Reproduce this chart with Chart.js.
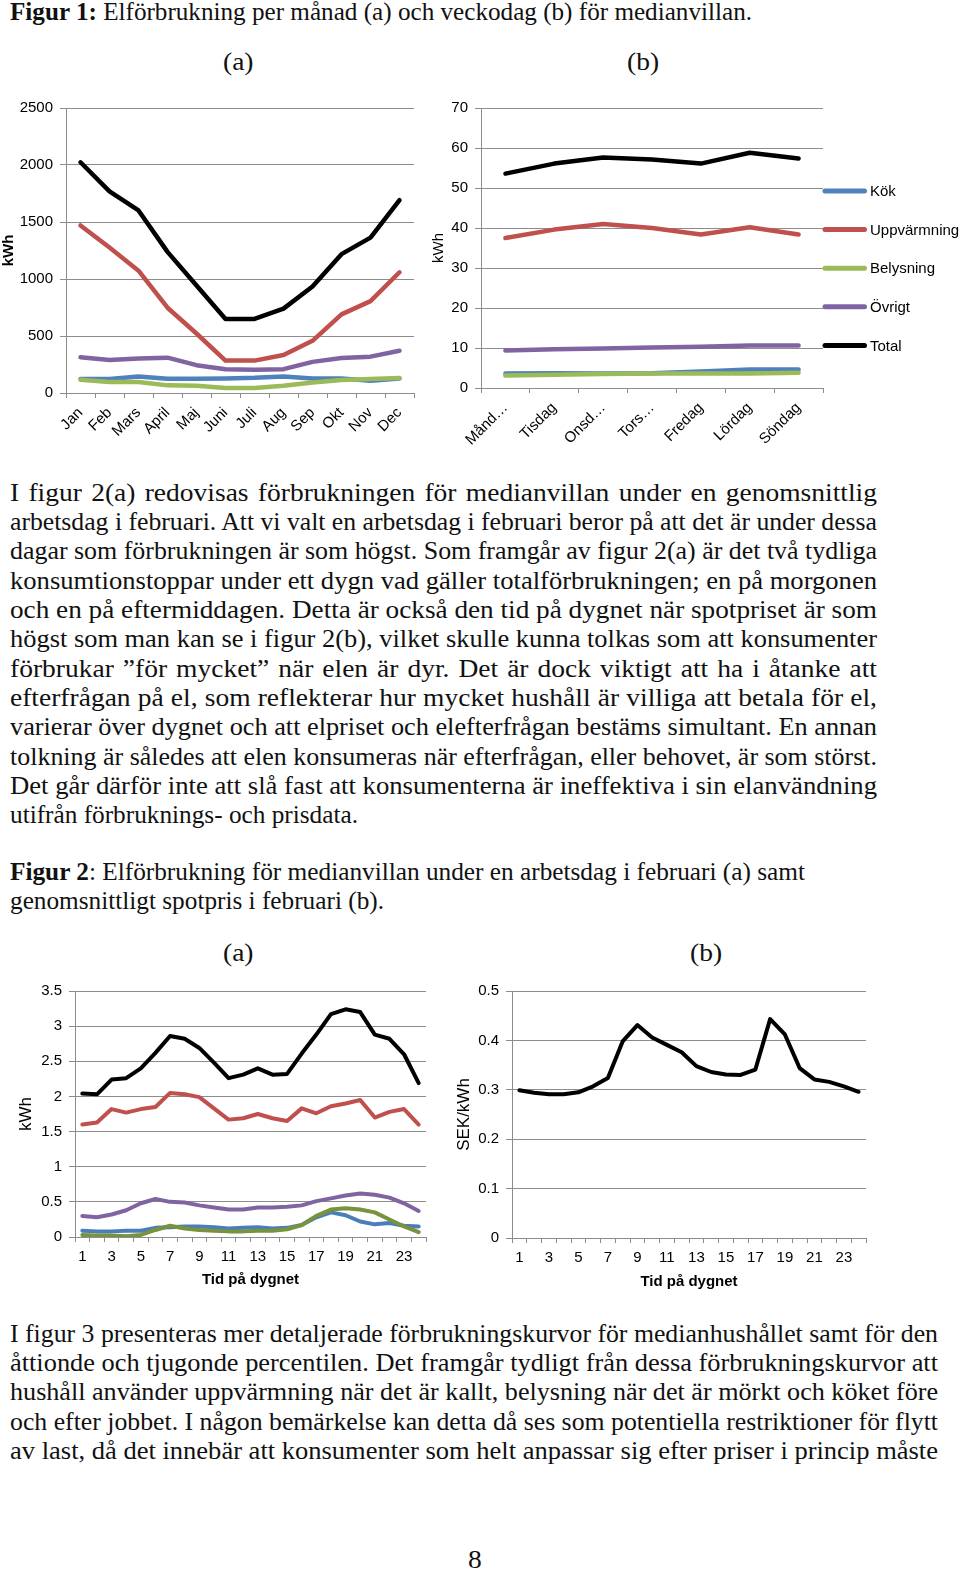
<!DOCTYPE html>
<html lang="sv"><head><meta charset="utf-8"><title>Elförbrukning</title>
<script src="https://cdn.jsdelivr.net/npm/chart.js@4.4.1/dist/chart.umd.min.js"></script>
<style>
html,body{margin:0;padding:0;background:#fff;}
body{position:relative;width:960px;height:1572px;overflow:hidden;font-family:"Liberation Serif","Times New Roman",serif;color:#111;}
.ln{position:absolute;white-space:nowrap;transform-origin:0 0;line-height:1;}
.cv{position:absolute;}
</style></head><body>
<canvas id="c1a" class="cv" width="420" height="355" style="left:0px;top:92px"></canvas>
<canvas id="c1b" class="cv" width="535" height="365" style="left:425px;top:92px"></canvas>
<canvas id="c2a" class="cv" width="440" height="320" style="left:0px;top:975px"></canvas>
<canvas id="c2b" class="cv" width="440" height="320" style="left:440px;top:975px"></canvas>
<script>
// ---------- DATA ----------
const seriesNames = ['Kök', 'Uppvärmning', 'Belysning', 'Övrigt', 'Total'];

const months = ['Jan', 'Feb', 'Mars', 'April', 'Maj', 'Juni', 'Juli', 'Aug', 'Sep', 'Okt', 'Nov', 'Dec'];
const monthKok     = [122, 122, 145, 125, 125, 128, 133, 145, 128, 128, 107, 128];
const monthUppv    = [1470, 1276, 1073, 748, 522, 284, 284, 333, 458, 690, 806, 1059];
const monthBelys   = [116, 96, 96, 67, 64, 44, 44, 64, 93, 113, 122, 131];
const monthOvrigt  = [313, 290, 302, 310, 244, 209, 203, 209, 273, 307, 319, 371];
const monthTotal   = [2024, 1769, 1601, 1238, 943, 650, 650, 740, 934, 1218, 1363, 1691];

const weekdays = ['Månd…', 'Tisdag', 'Onsd…', 'Tors…', 'Fredag', 'Lördag', 'Söndag'];
const dayKok    = [3.6, 3.7, 3.6, 3.7, 4.1, 4.6, 4.6];
const dayUppv   = [37.5, 39.6, 41.0, 40.0, 38.4, 40.2, 38.4];
const dayBelys  = [3.1, 3.3, 3.5, 3.6, 3.6, 3.6, 3.8];
const dayOvrigt = [9.4, 9.7, 9.9, 10.1, 10.3, 10.6, 10.6];
const dayTotal  = [53.6, 56.1, 57.6, 57.1, 56.1, 58.8, 57.4];

const hours = ['1', '2', '3', '4', '5', '6', '7', '8', '9', '10', '11', '12', '13', '14', '15', '16', '17', '18', '19', '20', '21', '22', '23', '24'];
const hourKok    = [0.09, 0.08, 0.08, 0.09, 0.09, 0.13, 0.14, 0.15, 0.15, 0.14, 0.12, 0.13, 0.14, 0.12, 0.13, 0.17, 0.28, 0.35, 0.31, 0.22, 0.18, 0.20, 0.16, 0.15];
const hourUppv   = [1.60, 1.63, 1.82, 1.77, 1.82, 1.85, 2.05, 2.03, 1.99, 1.83, 1.67, 1.69, 1.75, 1.69, 1.65, 1.83, 1.76, 1.86, 1.90, 1.95, 1.70, 1.78, 1.82, 1.60];
const hourBelys  = [0.03, 0.02, 0.02, 0.01, 0.03, 0.10, 0.16, 0.12, 0.10, 0.09, 0.08, 0.08, 0.09, 0.09, 0.11, 0.17, 0.30, 0.39, 0.41, 0.39, 0.35, 0.25, 0.15, 0.07];
const hourOvrigt = [0.30, 0.28, 0.32, 0.38, 0.48, 0.54, 0.50, 0.49, 0.45, 0.42, 0.39, 0.39, 0.42, 0.42, 0.43, 0.45, 0.51, 0.55, 0.59, 0.62, 0.60, 0.56, 0.48, 0.37];
const hourTotal  = [2.04, 2.03, 2.24, 2.26, 2.40, 2.62, 2.86, 2.82, 2.69, 2.48, 2.26, 2.31, 2.40, 2.31, 2.32, 2.61, 2.88, 3.17, 3.24, 3.20, 2.88, 2.82, 2.60, 2.19];
const hourPrice  = [0.299, 0.294, 0.291, 0.291, 0.295, 0.307, 0.324, 0.398, 0.431, 0.406, 0.391, 0.376, 0.348, 0.336, 0.331, 0.330, 0.341, 0.443, 0.412, 0.344, 0.321, 0.316, 0.307, 0.296];

// ---------- TEXT ----------
const para1 = [
  'I figur 2(a) redovisas förbrukningen för medianvillan under en genomsnittlig',
  'arbetsdag i februari. Att vi valt en arbetsdag i februari beror på att det är under dessa',
  'dagar som förbrukningen är som högst. Som framgår av figur 2(a) är det två tydliga',
  'konsumtionstoppar under ett dygn vad gäller totalförbrukningen; en på morgonen',
  'och en på eftermiddagen. Detta är också den tid på dygnet när spotpriset är som',
  'högst som man kan se i figur 2(b), vilket skulle kunna tolkas som att konsumenter',
  'förbrukar ”för mycket” när elen är dyr. Det är dock viktigt att ha i åtanke att',
  'efterfrågan på el, som reflekterar hur mycket hushåll är villiga att betala för el,',
  'varierar över dygnet och att elpriset och elefterfrågan bestäms simultant. En annan',
  'tolkning är således att elen konsumeras när efterfrågan, eller behovet, är som störst.',
  'Det går därför inte att slå fast att konsumenterna är ineffektiva i sin elanvändning',
  'utifrån förbruknings- och prisdata.'
];
const para2 = [
  'I figur 3 presenteras mer detaljerade förbrukningskurvor för medianhushållet samt för den',
  'åttionde och tjugonde percentilen. Det framgår tydligt från dessa förbrukningskurvor att',
  'hushåll använder uppvärmning när det är kallt, belysning när det är mörkt och köket före',
  'och efter jobbet. I någon bemärkelse kan detta då ses som potentiella restriktioner för flytt',
  'av last, då det innebär att konsumenter som helt anpassar sig efter priser i princip måste'
];

const FS = 25;
const BASE_SCALE = 1.1;
function placeLine(html, x, baseline, o) {
  o = o || {};
  const fs = o.fs || FS;
  const d = document.createElement('div');
  d.className = 'ln';
  d.style.fontSize = fs + 'px';
  d.innerHTML = html;
  document.body.appendChild(d);
  const w = d.getBoundingClientRect().width;
  let s = o.scale || 1;
  if (o.width) {
    if (o.justify) {
      s = BASE_SCALE;
      const n = (d.textContent.match(/ /g) || []).length;
      if (w * s > o.width || n === 0) s = o.width / w;
      else d.style.wordSpacing = ((o.width / s - w) / n) + 'px';
    } else {
      s = o.width / w;
    }
  }
  let left = x;
  if (o.center) left = x - w * s / 2;
  d.style.left = left + 'px';
  d.style.top = (baseline - 0.8375 * fs) + 'px';
  d.style.transform = 'scaleX(' + s + ')';
}

placeLine('<b>Figur 1:</b> Elförbrukning per månad (a) och veckodag (b) för medianvillan.', 10, 20, {width: 742});
placeLine('(a)', 238.6, 70, {center: true, scale: BASE_SCALE});
placeLine('(b)', 643, 70, {center: true, scale: BASE_SCALE});
para1.forEach((t, i) => {
  const last = i === para1.length - 1;
  placeLine(t, 10, 500.5 + i * 29.35, last ? {width: 348} : {width: 867, justify: true});
});
placeLine('<b>Figur 2</b>: Elförbrukning för medianvillan under en arbetsdag i februari (a) samt', 10, 879.5, {width: 795});
placeLine('genomsnittligt spotpris i februari (b).', 10, 909, {width: 374});
placeLine('(a)', 238.6, 961, {center: true, scale: BASE_SCALE});
placeLine('(b)', 706, 961, {center: true, scale: BASE_SCALE});
para2.forEach((t, i) => {
  placeLine(t, 10, 1341.5 + i * 29.35, {width: 928, justify: true});
});
placeLine('8', 475, 1567.5, {center: true, scale: BASE_SCALE});

// ---------- CHARTS ----------
Chart.defaults.font.family = "'Liberation Sans', Arial, sans-serif";
Chart.defaults.font.size = 15;
Chart.defaults.color = '#000';
const GRID = '#8c8c8c';

const sideLegend = {
  id: 'sideLegend',
  afterDraw(chart, args, o) {
    const ctx = chart.ctx;
    ctx.save();
    chart.data.datasets.forEach((ds, i) => {
      const y = o.y0 + i * o.dy;
      ctx.strokeStyle = ds.borderColor;
      ctx.lineWidth = o.lineWidth;
      ctx.lineCap = 'round';
      ctx.beginPath(); ctx.moveTo(o.x0, y); ctx.lineTo(o.x1, y); ctx.stroke();
      ctx.fillStyle = '#000';
      ctx.font = o.font;
      ctx.textBaseline = 'middle';
      ctx.textAlign = 'left';
      ctx.fillText(ds.label, o.tx, y + 1);
    });
    ctx.restore();
  }
};

function ds(label, data, color, order, width) {
  return {label, data, borderColor: color, backgroundColor: color, borderWidth: width,
    pointRadius: 0, pointHoverRadius: 0, tension: 0, fill: false, order,
    borderCapStyle: 'round', borderJoinStyle: 'round'};
}

function scales(p) {
  return {
    x: {
      type: 'category', offset: true,
      grid: {offset: true, drawOnChartArea: false, drawTicks: true, tickLength: 5, color: GRID, lineWidth: 1},
      border: {display: true, color: GRID, width: 1},
      ticks: {autoSkip: false, maxRotation: p.rot, minRotation: p.rot, padding: p.xPad, color: '#000',
        font: {size: 15},
        callback: function (val, i) { return (p.every && i % p.every !== 0) ? '' : this.getLabelForValue(val); }},
      title: p.xTitle ? {display: true, text: p.xTitle, color: '#000', font: {size: 15, weight: 'bold'},
        padding: {top: 0, bottom: p.xTitlePad}} : {display: false},
      afterFit: s => { s.height = p.xHeight; }
    },
    y: {
      min: p.ymin, max: p.ymax,
      ticks: {stepSize: p.step, padding: 7, color: '#000', font: {size: 15}, callback: v => String(v)},
      grid: {color: GRID, lineWidth: 1, tickLength: 6, drawTicks: true},
      border: {display: true, color: GRID, width: 1},
      title: {display: true, text: p.yTitle, color: '#000',
        font: {size: p.yTitleSize, weight: p.yTitleBold ? 'bold' : 'normal'},
        padding: {top: p.yTitlePad, bottom: 0}},
      afterFit: s => { s.width = p.yWidth; }
    }
  };
}

function baseOptions(pad, sc) {
  return {
    responsive: false, animation: false, devicePixelRatio: 1,
    layout: {padding: pad},
    plugins: {legend: {display: false}, tooltip: {enabled: false}},
    elements: {point: {radius: 0}, line: {tension: 0}},
    scales: sc
  };
}

// Figure 1 (a)
new Chart(document.getElementById('c1a'), {
  type: 'line',
  data: {labels: months, datasets: [
    ds(seriesNames[0], monthKok, '#4F81BD', 4, 4.5),
    ds(seriesNames[1], monthUppv, '#C0504D', 3, 4.5),
    ds(seriesNames[2], monthBelys, '#9BBB59', 2, 4.5),
    ds(seriesNames[3], monthOvrigt, '#8064A2', 1, 4.5),
    ds(seriesNames[4], monthTotal, '#000000', 0, 4.5)
  ]},
  options: baseOptions({left: 0, right: 6, top: 14, bottom: 0},
    scales({ymin: 0, ymax: 2500, step: 500, yTitle: 'kWh', yTitleSize: 15, yTitleBold: true, yTitlePad: 0,
      yWidth: 66, xHeight: 54, rot: 45, xPad: 6}))
});

// Figure 1 (b)
const opt1b = baseOptions({left: 0, right: 137, top: 15, bottom: 0},
  scales({ymin: 0, ymax: 70, step: 10, yTitle: 'kWh', yTitleSize: 15, yTitleBold: false, yTitlePad: 5,
    yWidth: 56, xHeight: 69, rot: 45, xPad: 6}));
opt1b.plugins.sideLegend = {x0: 400, x1: 439.5, tx: 445, y0: 99, dy: 38.6, lineWidth: 5,
  font: "15px 'Liberation Sans', Arial, sans-serif"};
new Chart(document.getElementById('c1b'), {
  type: 'line',
  data: {labels: weekdays, datasets: [
    ds(seriesNames[0], dayKok, '#4F81BD', 4, 4.5),
    ds(seriesNames[1], dayUppv, '#C0504D', 3, 4.5),
    ds(seriesNames[2], dayBelys, '#9BBB59', 2, 4.5),
    ds(seriesNames[3], dayOvrigt, '#8064A2', 1, 4.5),
    ds(seriesNames[4], dayTotal, '#000000', 0, 4.5)
  ]},
  options: opt1b,
  plugins: [sideLegend]
});

// Figure 2 (a)
new Chart(document.getElementById('c2a'), {
  type: 'line',
  data: {labels: hours, datasets: [
    ds(seriesNames[0], hourKok, '#4A7EBB', 4, 4),
    ds(seriesNames[1], hourUppv, '#C0504D', 3, 4),
    ds(seriesNames[2], hourBelys, '#77933C', 2, 4),
    ds(seriesNames[3], hourOvrigt, '#8064A2', 1, 4),
    ds(seriesNames[4], hourTotal, '#000000', 0, 4)
  ]},
  options: baseOptions({left: 0, right: 14, top: 12, bottom: 0},
    scales({ymin: 0, ymax: 3.5, step: 0.5, yTitle: 'kWh', yTitleSize: 17, yTitleBold: false, yTitlePad: 16,
      yWidth: 75, xHeight: 58, rot: 0, xPad: 6, every: 2, xTitle: 'Tid på dygnet', xTitlePad: 6}))
});

// Figure 2 (b)
new Chart(document.getElementById('c2b'), {
  type: 'line',
  data: {labels: hours, datasets: [
    ds('Spotpris', hourPrice, '#000000', 0, 4)
  ]},
  options: baseOptions({left: 0, right: 14, top: 14, bottom: 0},
    scales({ymin: 0, ymax: 0.5, step: 0.1, yTitle: 'SEK/kWh', yTitleSize: 17, yTitleBold: false, yTitlePad: 14,
      yWidth: 72, xHeight: 57, rot: 0, xPad: 6, every: 2, xTitle: 'Tid på dygnet', xTitlePad: 4}))
});
</script>
</body></html>
